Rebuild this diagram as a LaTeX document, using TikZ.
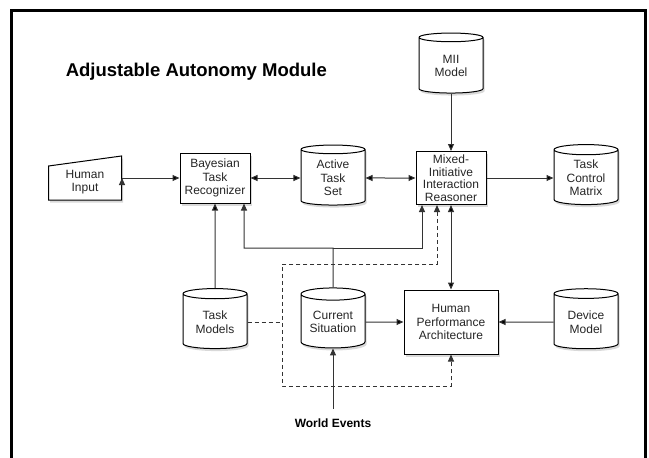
\documentclass[tikz,border=0pt]{standalone}
\usepackage{fontspec}
\setmainfont{Liberation Sans}
\usetikzlibrary{positioning}
\usetikzlibrary{shapes.geometric}
\usetikzlibrary{shadows}
\usetikzlibrary{arrows.meta}

\begin{document}
\begin{tikzpicture}[x=1pt, y=-1pt, node distance = 144pt and 118pt, on grid, line width=1pt, >={Triangle[length=7pt,width=6pt]}, proc/.style ={rectangle, draw, fill=white, text=black!85, align=center, font=\fontsize{12}{13.5}\selectfont, inner sep=1pt, minimum width=70pt, minimum height=50pt, drop shadow={opacity=0.3, shadow xshift=1.5pt, shadow yshift=-2.5pt}}, store/.style={cylinder, shape border rotate=90, aspect=0.25, draw, fill=white, text=black!85, align=center, font=\fontsize{12}{13.5}\selectfont, inner sep=1pt, minimum width=64pt, minimum height=60pt, drop shadow={opacity=0.3, shadow xshift=1.5pt, shadow yshift=-2.5pt}}, link/.style={draw=black!80}, dashlink/.style={draw=black!80, dash pattern=on 4pt off 3pt}]
\useasboundingbox (0,0) rectangle (649,458);
\draw[line width=3pt] (11,458) -- (11,10) -- (645,10) -- (645,458);
\node[anchor=west, font=\bfseries\fontsize{18.5}{22}\selectfont] (title) at (62,72) {Adjustable Autonomy Module};
\node[proc] (BTR) at (215,178) {Bayesian\\Task\\Recognizer};
\coordinate[left=130pt of BTR, yshift=-4pt] (HIc);
% manual input shape
\draw[fill=white, drop shadow={opacity=0.3, shadow xshift=1.5pt, shadow yshift=-2.5pt}] ([xshift=-36.5pt, yshift=16pt]HIc) -- ([xshift=36.5pt, yshift=26pt]HIc) -- ([xshift=36.5pt, yshift=-18pt]HIc) -- ([xshift=-36.5pt, yshift=-18pt]HIc) -- cycle;
\node[align=center, text=black!85, font=\fontsize{12}{13.5}\selectfont, minimum width=73pt, minimum height=44pt] (HI) at (HIc) {Human\\Input};
\node[store] (ATS) [right=of BTR] {Active\\Task\\Set};
\node[proc, font=\fontsize{12}{12.5}\selectfont, minimum height=53pt] (MIIR) [right=of ATS] {Mixed-\\Initiative\\Interaction\\Reasoner};
\node[store] (TCM) [right=135pt of MIIR] {Task\\Control\\Matrix};
\node[store] (MII) [above=112pt of MIIR] {MII\\Model};
\node[store] (TM) [below=of BTR] {Task\\Models};
\node[store] (CS) [below=of ATS] {Current\\Situation};
\node[proc, minimum width=94pt, minimum height=64pt] (HPA) [below=of MIIR] {Human\\Performance\\Architecture};
\node[store] (DM) [below=of TCM] {Device\\Model};
\node[font=\bfseries\fontsize{12}{14}\selectfont] (WE) [below=101pt of CS] {World Events};
\coordinate[above=74pt of CS] (J);
\coordinate[above left=58pt and 51pt of CS] (D1);
\coordinate[below left=64pt and 51pt of CS] (D2);
\path[link, ->] (HI.east |- BTR) edge (BTR)
(MII) edge (MIIR)
(MIIR) edge (TCM)
(TM) edge (BTR)
(CS) edge (HPA)
(DM) edge (HPA);
\path[link, <->] (BTR) edge (ATS)
(ATS) edge (MIIR)
(MIIR) edge (HPA);
\draw[link, ->, shorten <=6pt] (WE) -- (CS);
\draw[link, ->] (CS.north) -- (J) -| ([xshift=29pt]BTR.south);
\draw[link, ->] (J) -| ([xshift=-29pt]MIIR.south);
\draw[dashlink] (TM.east) -- (TM.east -| D1);
\draw[dashlink, <->] ([xshift=-14pt]MIIR.south) |- (D1) -- (D2) -| (HPA.south);
\end{tikzpicture}
\end{document}
